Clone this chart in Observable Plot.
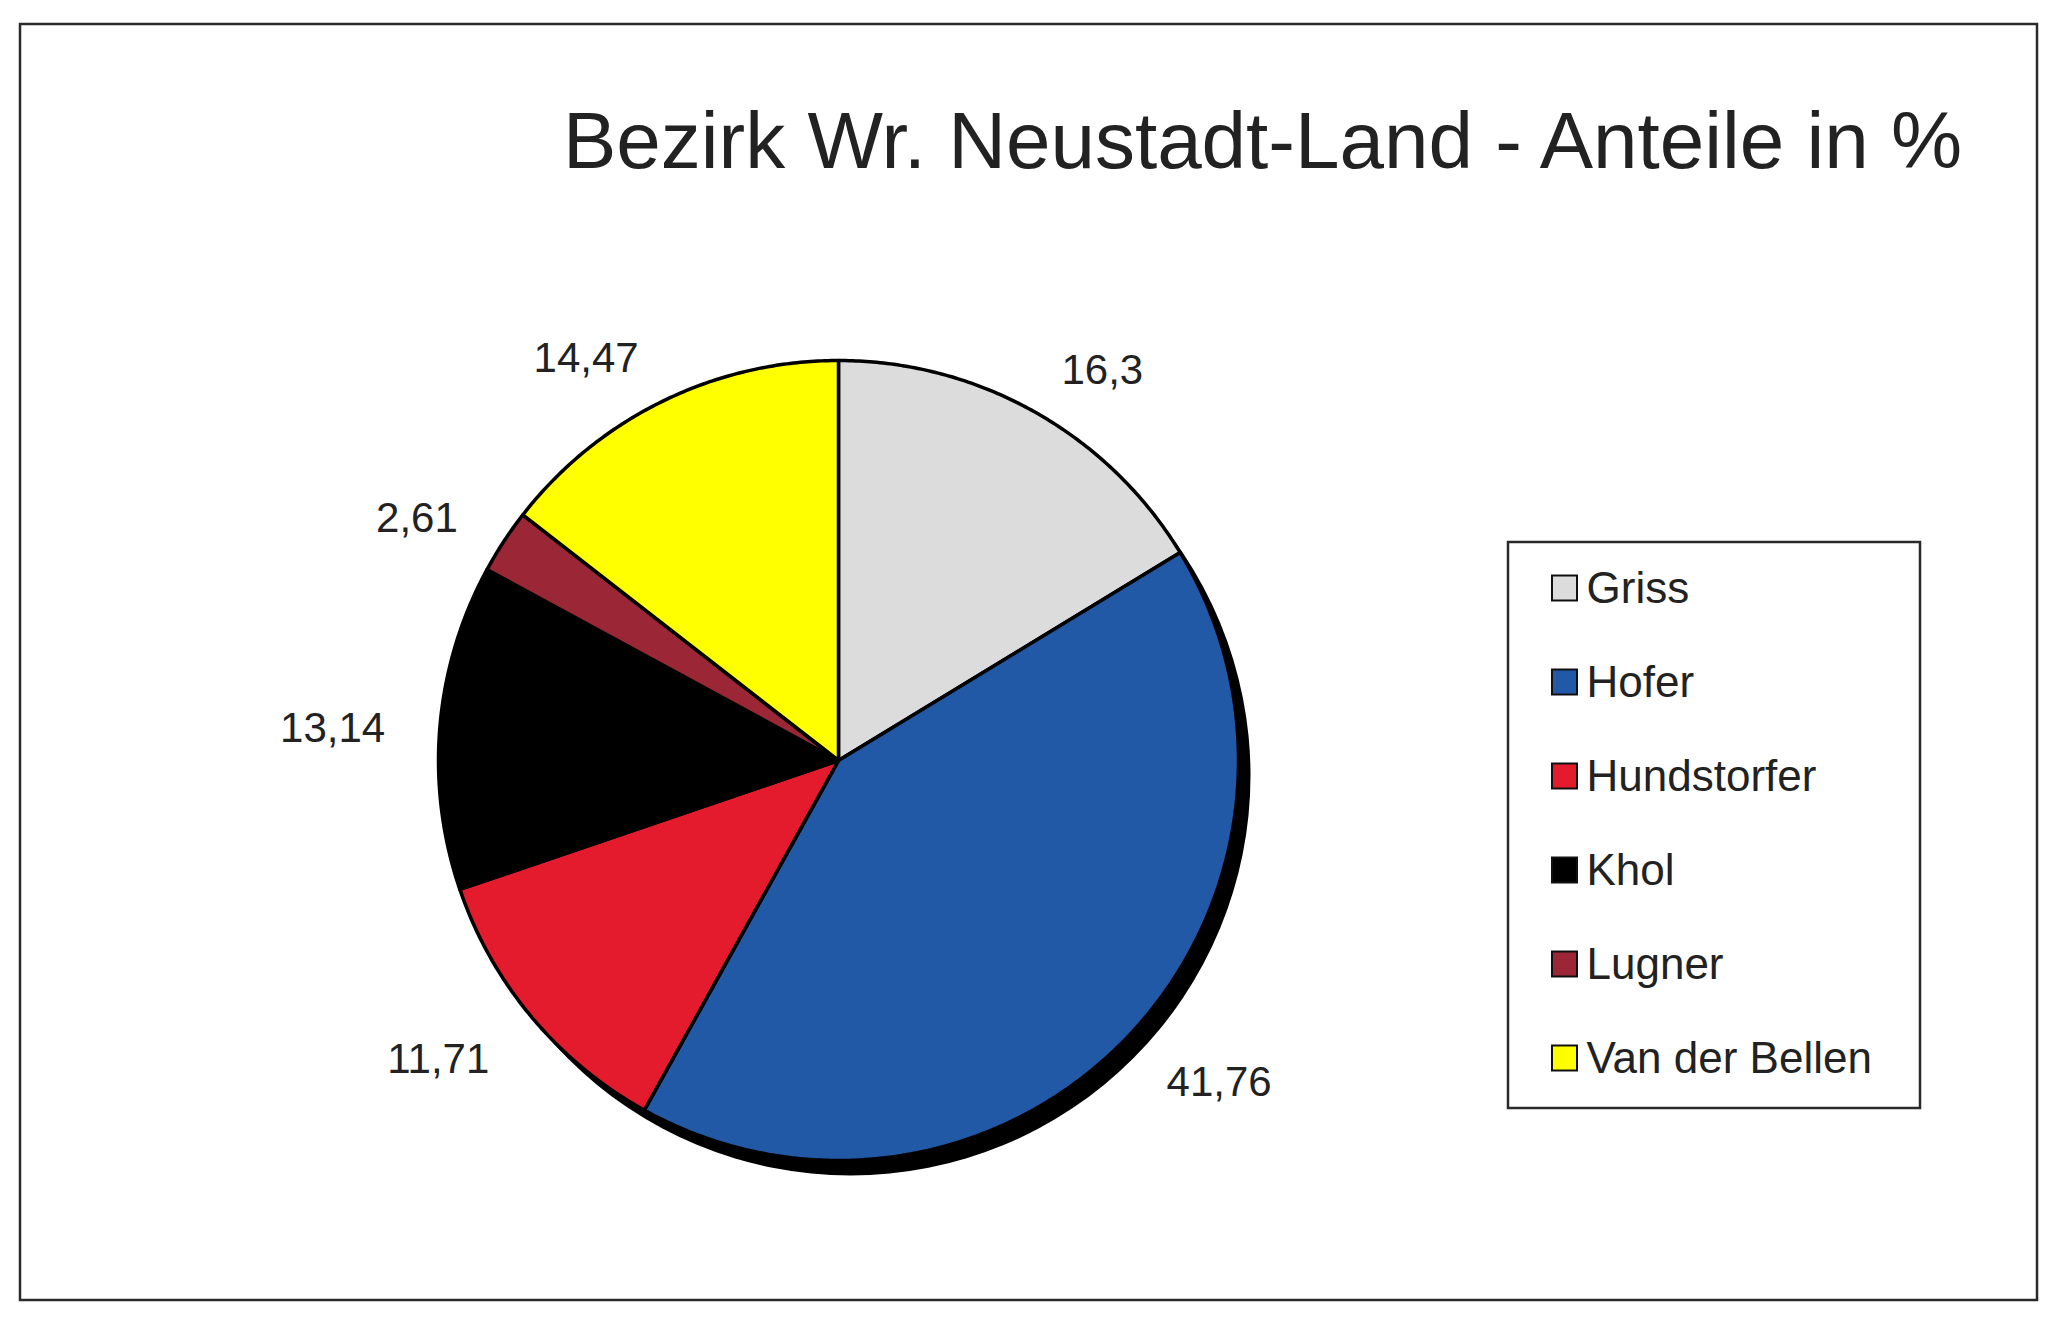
<!DOCTYPE html>
<html>
<head>
<meta charset="utf-8">
<script src="https://cdn.jsdelivr.net/npm/d3@7"></script>
<script src="https://cdn.jsdelivr.net/npm/@observablehq/plot@0.6"></script>
<style>
  html, body { margin: 0; padding: 0; background: #ffffff; }
  #chart svg { display: block; }
</style>
</head>
<body>
<div id="chart"></div>
<script>
// ---- data ----
const title = "Bezirk Wr. Neustadt-Land - Anteile in %";
const names = ["Griss", "Hofer", "Hundstorfer", "Khol", "Lugner", "Van der Bellen"];
const shares = [16.3, 41.76, 11.71, 13.14, 2.61, 14.47];
const colors = ["#dcdcdc", "#2159a6", "#e31b2c", "#000000", "#9a2636", "#ffff00"];

// ---- layout ----
const W = 2048, H = 1323;
const CX = 838, CY = 760, R = 400;         // pie centre and radius in px
const X = px => (px - CX) / R;             // px -> data units
const Y = py => (CY - py) / R;
const font = "'Liberation Sans', Arial, sans-serif";
const ink = "#222222";

// ---- slices ----
const total = d3.sum(shares);
let acc = 0;
const slices = names.map((name, i) => {
  const a0 = acc / total * 2 * Math.PI;
  acc += shares[i];
  const a1 = acc / total * 2 * Math.PI;
  return {name, value: shares[i], a0, a1, mid: (a0 + a1) / 2};
});
const polyPts = [];
for (const s of slices) {
  polyPts.push({name: s.name, x: 0, y: 0});
  const n = Math.max(2, Math.ceil((s.a1 - s.a0) / (Math.PI / 360)));
  for (let k = 0; k <= n; k++) {
    const a = s.a0 + (s.a1 - s.a0) * k / n;
    polyPts.push({name: s.name, x: Math.sin(a), y: Math.cos(a)});
  }
  polyPts.push({name: s.name, x: 0, y: 0});
}

// ---- data labels ----
const LD = 455 / R;
const lab = slices.map(s => ({
  name: s.name,
  text: String(s.value).replace(".", ","),
  x: LD * Math.sin(s.mid),
  y: LD * Math.cos(s.mid) - 7 / R,
  right: Math.sin(s.mid) >= 0
}));

// ---- legend ----
const LB = {x1: 1508, x2: 1920, y1: 542, y2: 1108};
const legY0 = 588, legStep = 94, sw = 25, swX = 1552, txtX = 1586;
const leg = names.map((name, i) => {
  const cy = legY0 + i * legStep;
  return {name, x1: X(swX), x2: X(swX + sw), y1: Y(cy - sw / 2), y2: Y(cy + sw / 2), tx: X(txtX), ty: Y(cy)};
});

const plot = Plot.plot({
  width: W, height: H,
  margin: 0,
  x: {domain: [X(0), X(W)], axis: null},
  y: {domain: [Y(H), Y(0)], axis: null},
  color: {domain: names, range: colors, legend: false},
  style: {fontFamily: font, background: "#ffffff"},
  marks: [
    // outer border
    Plot.rect([0], {x1: X(20), x2: X(2037), y1: Y(24), y2: Y(1300), fill: "none", stroke: "#2a2a2a", strokeWidth: 2.5}),
    // title
    Plot.text([title], {x: X(1262), y: Y(167), text: d => d, fontSize: 80, lineAnchor: "bottom", fill: ink, textAnchor: "middle"}),
    // pie shadow
    Plot.dot([0], {x: () => 0, y: () => 0, r: R, fill: "#000", stroke: null, dx: 12, dy: 15}),
    // slices
    Plot.line(polyPts, {x: "x", y: "y", z: "name", fill: "name", stroke: "#000", strokeWidth: 3.5, strokeLinejoin: "round", curve: "linear"}),
    // labels
    Plot.text(lab.filter(d => d.right), {x: "x", y: "y", text: "text", textAnchor: "start", lineAnchor: "middle", fontSize: 42, fill: ink}),
    Plot.text(lab.filter(d => !d.right), {x: "x", y: "y", text: "text", textAnchor: "end", lineAnchor: "middle", fontSize: 42, fill: ink}),
    // legend
    Plot.rect([0], {x1: X(LB.x1), x2: X(LB.x2), y1: Y(LB.y1), y2: Y(LB.y2), fill: "#fff", stroke: "#2a2a2a", strokeWidth: 2.5}),
    Plot.rect(leg, {x1: "x1", x2: "x2", y1: "y1", y2: "y2", fill: "name", stroke: "#111", strokeWidth: 2}),
    Plot.text(leg, {x: "tx", y: "ty", text: "name", textAnchor: "start", lineAnchor: "middle", fontSize: 44, fill: ink})
  ]
});
document.getElementById("chart").appendChild(plot);
</script>
</body>
</html>
